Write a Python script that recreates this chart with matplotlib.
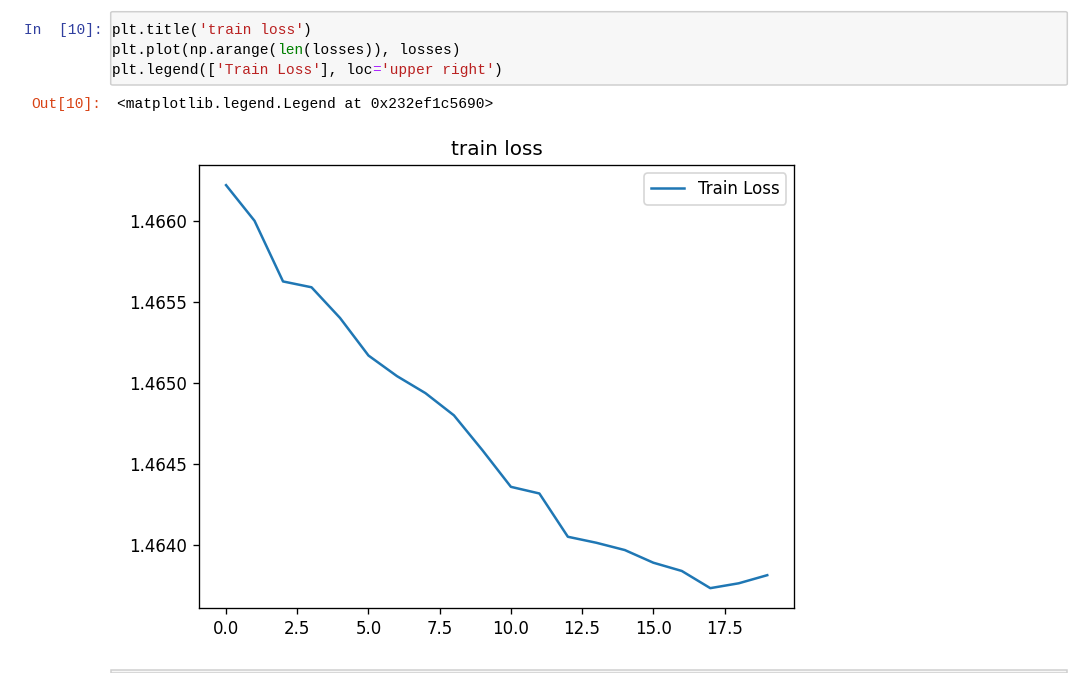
import numpy as np
import matplotlib.pyplot as plt
from matplotlib.patches import FancyBboxPatch, Rectangle

# loss per epoch
losses = [1.466220, 1.466000, 1.465626, 1.465590, 1.465401,
          1.465169, 1.465042, 1.464937, 1.464800, 1.464585,
          1.464359, 1.464318, 1.464051, 1.464014, 1.463969,
          1.463891, 1.463840, 1.463734, 1.463764, 1.463814]

code_lines = [
    [("plt.title(", "black"), ("'train loss'", "#BA2121"), (")", "black")],
    [("plt.plot(np.arange(", "black"), ("len", "#008000"), ("(losses)), losses)", "black")],
    [("plt.legend([", "black"), ("'Train Loss'", "#BA2121"), ("], loc", "black"),
     ("=", "#AA22FF"), ("'upper right'", "#BA2121"), (")", "black")],
]
out_text = "<matplotlib.legend.Legend at 0x232ef1c5690>"

W, H = 1083, 673
DPI = 120
fig = plt.figure(figsize=(W / DPI, H / DPI), dpi=DPI)


def px(x, y):
    return x / W, 1 - y / H


mono = "Liberation Mono"
fs = 8.7
cw = 8.67  # pixel width of one character

# input cell
x0, y0 = px(110.7, 85)
fig.add_artist(FancyBboxPatch(
    (x0, y0), (1067.3 - 110.7) / W, (85 - 11.7) / H,
    boxstyle="round,pad=0,rounding_size=0.002",
    transform=fig.transFigure, facecolor="#f7f7f7", edgecolor="#cfcfcf", lw=0.9))
fig.text(*px(24, 30), "In  [10]:", family=mono, fontsize=fs, color="#303F9F", va="center")

for i, line in enumerate(code_lines):
    col = 0
    for seg, c in line:
        fig.text(*px(112 + col * cw, 30 + 20 * i), seg, family=mono, fontsize=fs,
                 color=c, va="center")
        col += len(seg)

fig.text(*px(31, 104), "Out[10]:", family=mono, fontsize=fs, color="#D84315", va="center")
fig.text(*px(117, 104), out_text, family=mono, fontsize=fs, color="black", va="center")

# top edge of the next cell
fig.add_artist(Rectangle(px(110.7, 673), (1067.3 - 110.7) / W, 3 / H,
                         transform=fig.transFigure, facecolor="#f7f7f7",
                         edgecolor="#cfcfcf", lw=0.9))

# the plot
l, b = px(199, 608.3)
r, t = px(794.3, 165)
ax = fig.add_axes([l, b, r - l, t - b])
ax.set_title('train loss')
ax.plot(np.arange(len(losses)), losses)
ax.legend(['Train Loss'], loc='upper right')

fig.savefig("out.png", dpi=DPI)
